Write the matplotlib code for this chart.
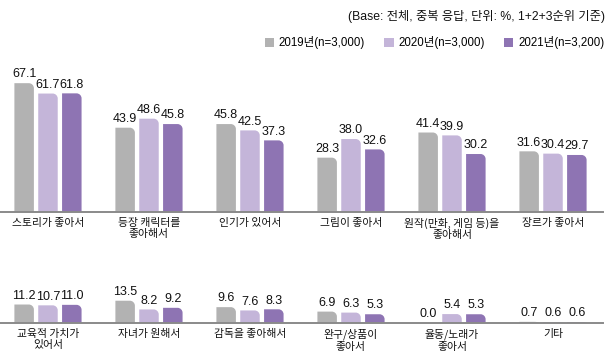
import matplotlib
matplotlib.use("Agg")
import matplotlib.pyplot as plt
import numpy as np
from matplotlib.path import Path
from matplotlib.patches import PathPatch, Patch

# --- Data ---
top_labels = ["스토리가 좋아서", "등장 캐릭터를\n좋아해서", "인기가 있어서",
              "그림이 좋아서", "원작(만화, 게임 등)을\n좋아해서", "장르가 좋아서"]
top_2019 = [67.1, 43.9, 45.8, 28.3, 41.4, 31.6]
top_2020 = [61.7, 48.6, 42.5, 38.0, 39.9, 30.4]
top_2021 = [61.8, 45.8, 37.3, 32.6, 30.2, 29.7]

bottom_labels = ["교육적 가치가\n있어서", "자녀가 원해서", "감독을 좋아해서",
                 "완구/상품이\n좋아서", "율동/노래가\n좋아서", "기타"]
bottom_2019 = [11.2, 13.5, 9.6, 6.9, 0.0, 0.7]
bottom_2020 = [10.7, 8.2, 7.6, 6.3, 5.4, 0.6]
bottom_2021 = [11.0, 9.2, 8.3, 5.3, 5.3, 0.6]

series_names = ["2019년(n=3,000)", "2020년(n=3,000)", "2021년(n=3,200)"]
COLORS = ["#b2b2b2", "#c4b5d9", "#8e74b3"]

FONTS = ["Liberation Sans", "Noto Sans CJK KR", "DejaVu Sans"]
KR = ["Noto Sans CJK KR", "DejaVu Sans"]
plt.rcParams["font.family"] = FONTS

fig = plt.figure(figsize=(6.13, 3.59), dpi=100)

BAR_W = 0.193
OFFSET = 0.236


def round_top_right(ax, rect, r_px=5):
    """Swap a bar rectangle for a path with a rounded top-right corner."""
    x0, y0 = rect.get_x(), rect.get_y()
    w, h = rect.get_width(), rect.get_height()
    inv = ax.transData.inverted()
    p0 = inv.transform((0, 0))
    p1 = inv.transform((r_px, r_px))
    rx = min(abs(p1[0] - p0[0]), w / 2)
    ry = min(abs(p1[1] - p0[1]), h)
    x1, y1 = x0 + w, y0 + h
    k = 0.55
    verts = [(x0, y0), (x0, y1), (x1 - rx, y1),
             (x1 - rx + k * rx, y1), (x1, y1 - ry + k * ry), (x1, y1 - ry),
             (x1, y0), (x0, y0)]
    codes = [Path.MOVETO, Path.LINETO, Path.LINETO,
             Path.CURVE4, Path.CURVE4, Path.CURVE4,
             Path.LINETO, Path.CLOSEPOLY]
    rect.set_visible(False)
    ax.add_patch(PathPatch(Path(verts, codes), facecolor=rect.get_facecolor(),
                           edgecolor="none", linewidth=0))


def draw_row(rect_pos, ymax, labels, series):
    ax = fig.add_axes(rect_pos)
    x = np.arange(len(labels))
    ax.set_xlim(-0.475, 5.495)
    ax.set_ylim(0, ymax)
    containers = []
    for i, vals in enumerate(series):
        xs = x + (i - 1) * OFFSET
        containers.append(ax.bar(xs, vals, width=BAR_W, color=COLORS[i]))
        for xi, v in zip(xs, vals):
            ax.annotate(f"{v:.1f}", (xi, v), xytext=(0, 2), textcoords="offset points",
                        ha="center", va="bottom", fontsize=9, color="#111111")
    for bc in containers:
        for rect in bc.patches:
            if rect.get_height() > 0:
                round_top_right(ax, rect)
    ax.set_xticks(x)
    ax.set_xticklabels(labels, fontsize=7.8, family=KR, fontweight="medium",
                       color="#111111", linespacing=1.2)
    ax.tick_params(axis="x", length=0, pad=4)
    ax.set_yticks([])
    for s in ["top", "right", "left"]:
        ax.spines[s].set_visible(False)
    ax.spines["bottom"].set_color("#8a8a8a")
    ax.spines["bottom"].set_linewidth(1.4)
    ax.patch.set_alpha(0)
    return ax


ax_top = draw_row([0.0, 0.4095, 0.9837, 0.385], 72,
                  top_labels, [top_2019, top_2020, top_2021])
ax_bot = draw_row([0.0, 0.1003, 0.9837, 0.0919], 20,
                  bottom_labels, [bottom_2019, bottom_2020, bottom_2021])

fig.text(0.987, 0.955, "(Base: 전체, 중복 응답, 단위: %, 1+2+3순위 기준)",
         ha="right", va="center", fontsize=8.8, color="#111111")

handles = [Patch(facecolor=c, edgecolor="none") for c in COLORS]
fig.legend(handles=handles, labels=series_names, loc="upper right",
           bbox_to_anchor=(0.993, 0.912), ncol=3, frameon=False,
           fontsize=8.3, handlelength=0.8, handleheight=0.8,
           handletextpad=0.4, columnspacing=1.7, borderaxespad=0)

fig.savefig("out.png", dpi=100)
